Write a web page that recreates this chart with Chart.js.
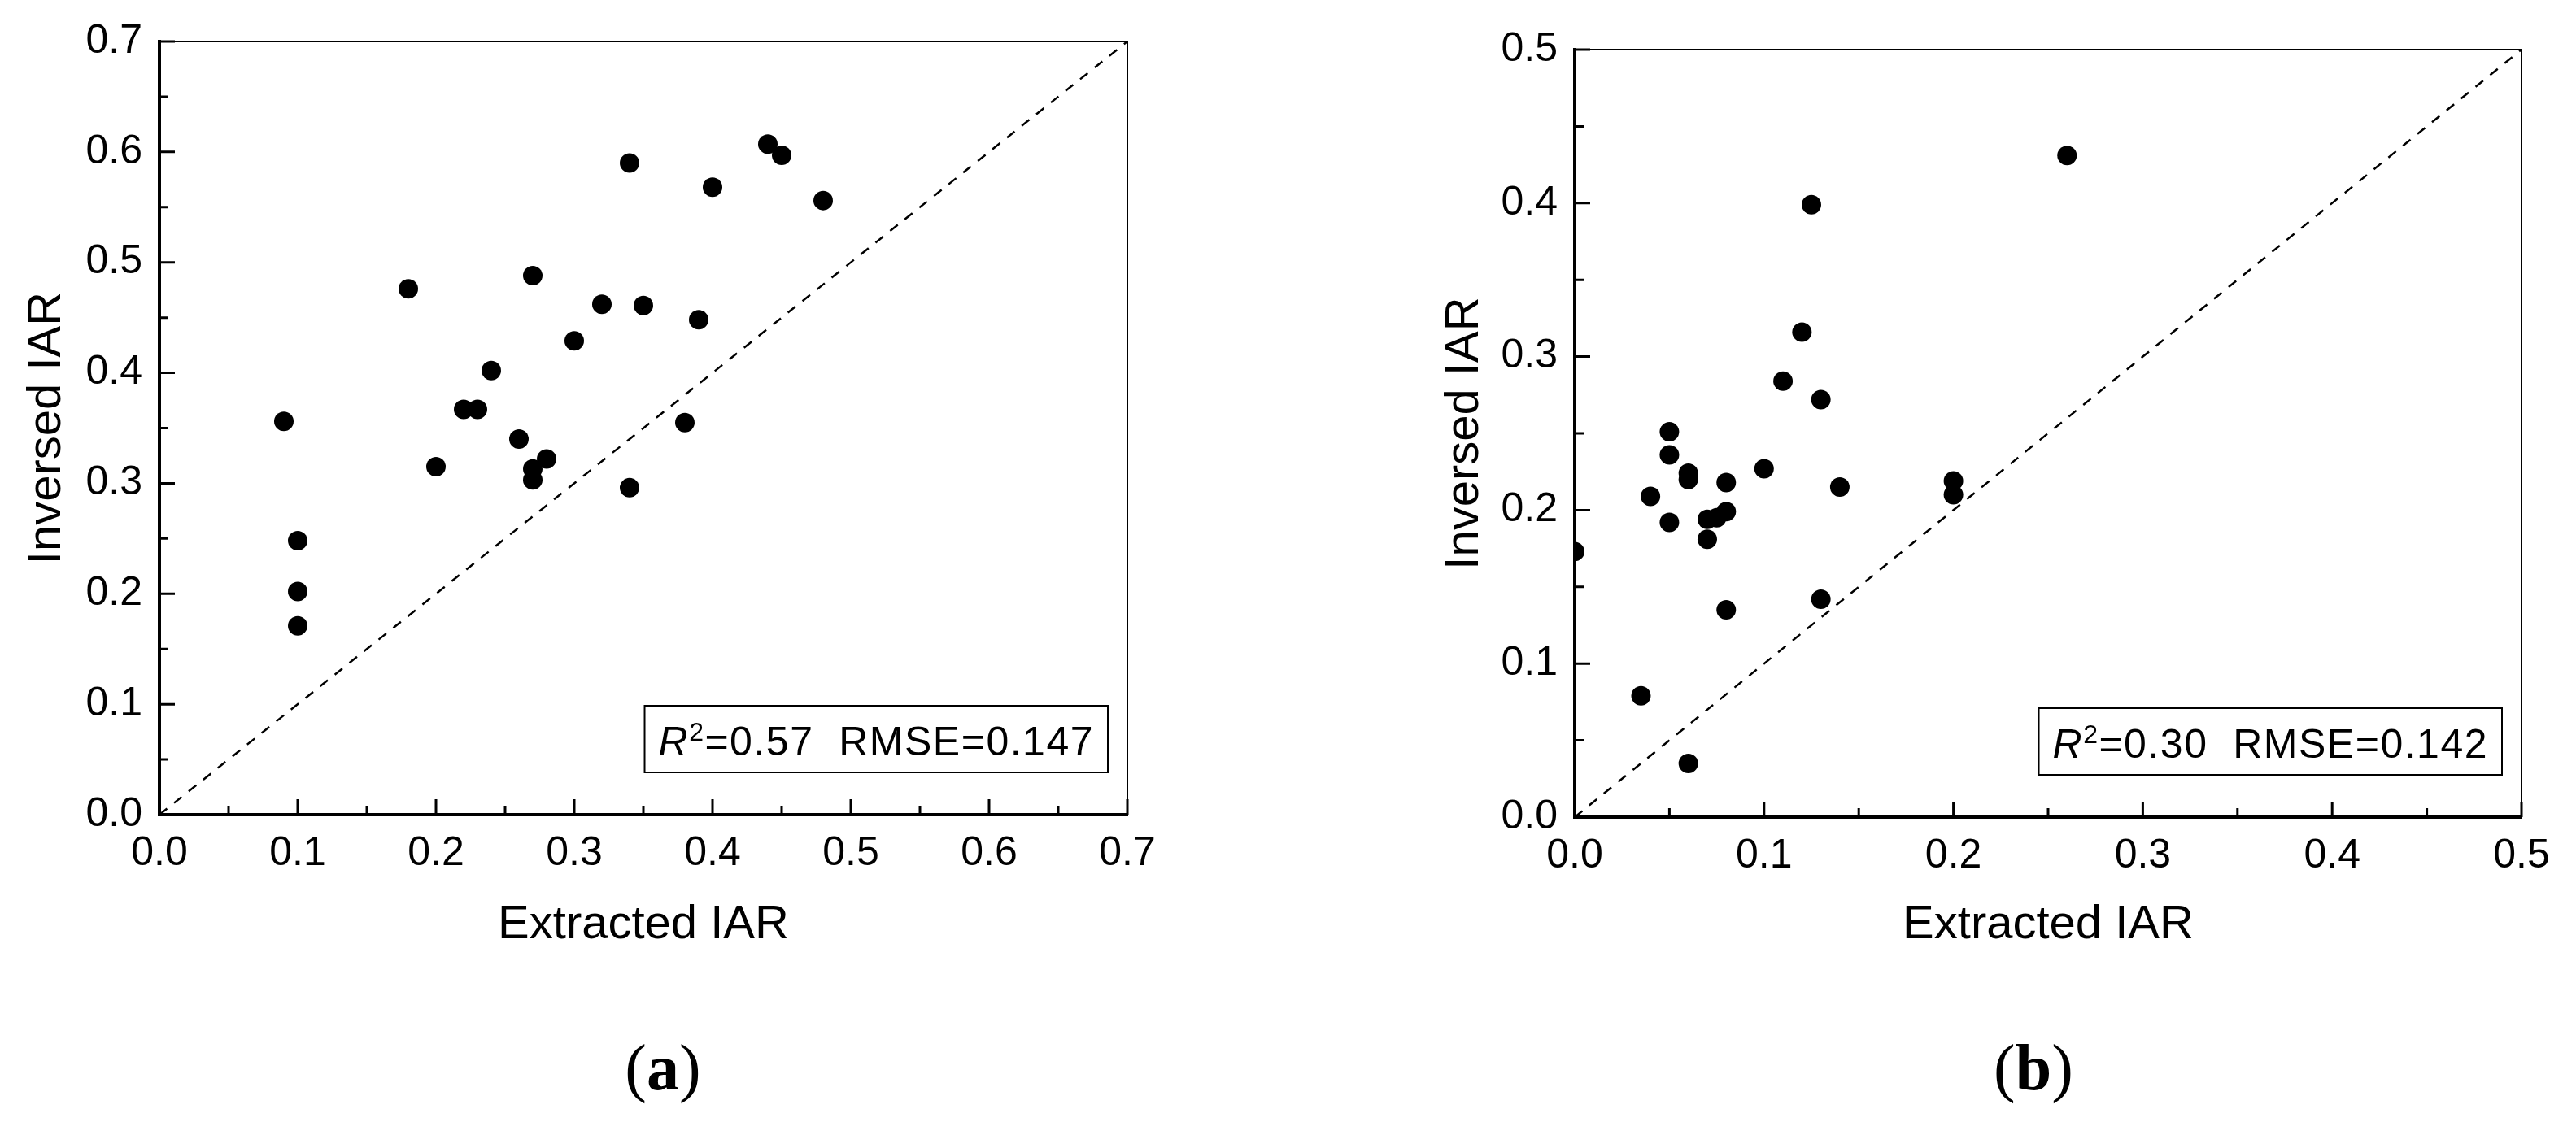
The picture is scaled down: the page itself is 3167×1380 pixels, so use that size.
<!DOCTYPE html>
<html>
<head>
<meta charset="utf-8">
<script src="https://cdn.jsdelivr.net/npm/chart.js@4"></script>
<style>
  html, body { margin: 0; padding: 0; background: #fff; }
  body { width: 3167px; height: 1380px; position: relative; overflow: hidden; }
  .panel { position: absolute; top: 0; height: 1380px; }
  #panelA { left: 0; width: 1560px; }
  #panelB { left: 1620px; width: 1547px; }
</style>
</head>
<body>
<div class="panel" id="panelA"><canvas id="chartA"></canvas></div>
<div class="panel" id="panelB"><canvas id="chartB"></canvas></div>
<script>
// panel (a) values
const extractedA = [0.09, 0.10, 0.10, 0.10, 0.18, 0.20, 0.22, 0.23, 0.24, 0.26, 0.27, 0.27, 0.27,
  0.28, 0.30, 0.32, 0.34, 0.34, 0.35, 0.38, 0.39, 0.40, 0.44, 0.45, 0.48];
const inversedA = [0.356, 0.248, 0.202, 0.171, 0.476, 0.315, 0.367, 0.367, 0.402, 0.340, 0.488, 0.313, 0.303,
  0.322, 0.429, 0.462, 0.590, 0.296, 0.461, 0.355, 0.448, 0.568, 0.607, 0.597, 0.556];
const ticksA = [0.0, 0.1, 0.2, 0.3, 0.4, 0.5, 0.6, 0.7];
const minorA = [0.05, 0.15, 0.25, 0.35, 0.45, 0.55, 0.65];

// panel (b) values
const extractedB = [0.0, 0.035, 0.04, 0.05, 0.05, 0.05, 0.06, 0.06, 0.06, 0.07, 0.07, 0.075, 0.08,
  0.08, 0.08, 0.10, 0.11, 0.12, 0.125, 0.13, 0.13, 0.14, 0.20, 0.20, 0.26];
const inversedB = [0.173, 0.079, 0.209, 0.251, 0.236, 0.192, 0.224, 0.220, 0.035, 0.194, 0.181, 0.195, 0.199,
  0.218, 0.135, 0.227, 0.284, 0.316, 0.399, 0.272, 0.142, 0.215, 0.219, 0.210, 0.431];
const ticksB = [0.0, 0.1, 0.2, 0.3, 0.4, 0.5];
const minorB = [0.05, 0.15, 0.25, 0.35, 0.45];

const FAMILY = "'Liberation Sans', Arial, sans-serif";
const SERIF = "'Liberation Serif', 'Times New Roman', serif";
Chart.defaults.font.family = FAMILY;
Chart.defaults.color = "#000";

/* cadre fin en haut/à droite, graduations intérieures, encadré des stats, étiquette du panneau */
const framePlugin = {
  id: "frame",
  afterDraw(chart, args, o) {
    const { ctx, chartArea: a } = chart;
    const xs = chart.scales.x, ys = chart.scales.y;
    ctx.save();
    ctx.strokeStyle = "#000";
    ctx.lineWidth = 2;
    ctx.beginPath();
    ctx.moveTo(a.left, a.top);
    ctx.lineTo(a.right, a.top);
    ctx.lineTo(a.right, a.bottom);
    ctx.stroke();

    ctx.lineWidth = 3;
    ctx.beginPath();
    const xTick = (v, len) => {
      const px = xs.getPixelForValue(v);
      ctx.moveTo(px, a.bottom);
      ctx.lineTo(px, a.bottom - len);
    };
    const yTick = (v, len) => {
      const py = ys.getPixelForValue(v);
      ctx.moveTo(a.left, py);
      ctx.lineTo(a.left + len, py);
    };
    o.major.forEach(v => { xTick(v, 19); yTick(v, 19); });
    o.minor.forEach(v => { xTick(v, 11); yTick(v, 11); });
    ctx.stroke();

    // encadré R² / RMSE
    ctx.letterSpacing = "1.5px";
    ctx.font = "italic 50px " + FAMILY;
    const wR = ctx.measureText("R").width;
    ctx.font = "32px " + FAMILY;
    const w2 = ctx.measureText("2").width;
    ctx.font = "50px " + FAMILY;
    const rest = "=" + o.r2 + "  RMSE=" + o.rmse;
    const wRest = ctx.measureText(rest).width;
    const total = wR + w2 + wRest;
    const boxW = total + 34, boxH = 82;
    const boxRight = a.right - 24, boxBottom = a.bottom - 52;
    const boxLeft = boxRight - boxW, boxTop = boxBottom - boxH;
    ctx.lineWidth = 2;
    ctx.strokeRect(boxLeft, boxTop, boxW, boxH);
    ctx.fillStyle = "#000";
    ctx.textBaseline = "alphabetic";
    ctx.textAlign = "left";
    let tx = boxLeft + 17;
    const base = boxBottom - 21.5;
    ctx.font = "italic 50px " + FAMILY;
    ctx.fillText("R", tx, base);
    tx += wR;
    ctx.font = "32px " + FAMILY;
    ctx.fillText("2", tx, base - 18);
    tx += w2;
    ctx.font = "50px " + FAMILY;
    ctx.fillText(rest, tx, base);
    ctx.letterSpacing = "0px";

    // (a) / (b)
    ctx.font = "80px " + SERIF;
    const wp1 = ctx.measureText("(").width;
    const wp2 = ctx.measureText(")").width;
    ctx.font = "bold 80px " + SERIF;
    const wl = ctx.measureText(o.panel).width;
    let px = o.panelX - (wp1 + wl + wp2) / 2;
    ctx.font = "80px " + SERIF;
    ctx.fillText("(", px, 1340);
    px += wp1;
    ctx.font = "bold 80px " + SERIF;
    ctx.fillText(o.panel, px, 1340);
    px += wl;
    ctx.font = "80px " + SERIF;
    ctx.fillText(")", px, 1340);
    ctx.restore();
  }
};

function buildChart(canvasId, c) {
  const context = document.getElementById(canvasId).getContext("2d");
  const points = c.xs.map((x, i) => ({ x: x, y: c.ys[i] }));
  const axisBase = {
    type: "linear",
    min: 0,
    max: c.max,
    afterBuildTicks: s => { s.ticks = c.ticks.map(v => ({ value: v })); },
    grid: { display: false, drawTicks: false },
    border: { display: true, color: "#000", width: 4 },
  };
  return new Chart(context, {
    type: "scatter",
    data: {
      datasets: [
        {
          label: "points",
          data: points,
          backgroundColor: "#000",
          borderColor: "#000",
          borderWidth: 0,
          pointRadius: 12,
          pointHoverRadius: 12,
          clip: 0,
        },
        {
          label: "1:1",
          type: "line",
          data: [{ x: 0, y: 0 }, { x: c.max, y: c.max }],
          borderColor: "#000",
          borderWidth: 2.5,
          borderDash: [12, 11],
          pointRadius: 0,
          fill: false,
          clip: 0,
        }
      ]
    },
    options: {
      responsive: true,
      maintainAspectRatio: false,
      animation: false,
      events: [],
      layout: { padding: c.padding },
      plugins: {
        legend: { display: false },
        tooltip: { enabled: false },
        frame: { major: c.ticks, minor: c.minor, r2: c.r2, rmse: c.rmse, panel: c.panel, panelX: c.panelX },
      },
      scales: {
        x: Object.assign({}, axisBase, {
          afterFit: s => { s.height = 180; },
          ticks: { color: "#000", font: { size: 50 }, padding: 18, maxRotation: 0, autoSkip: false,
            callback: v => v.toFixed(1) },
          title: { display: true, text: "Extracted IAR", color: "#000", font: { size: 58 },
            padding: { top: 0, bottom: c.xTitlePad } },
        }),
        y: Object.assign({}, axisBase, {
          afterFit: s => { s.width = c.yAxisWidth; },
          ticks: { color: "#000", font: { size: 50 }, padding: 21, autoSkip: false,
            callback: v => v.toFixed(1) },
          title: { display: true, text: "Inversed IAR", color: "#000", font: { size: 58 },
            padding: { top: c.yTitlePad, bottom: 0 } },
        }),
      },
    },
    plugins: [framePlugin],
  });
}

const chartA = buildChart("chartA", {
  xs: extractedA, ys: inversedA, max: 0.7, ticks: ticksA, minor: minorA,
  r2: "0.57", rmse: "0.147", panel: "a", panelX: 815,
  padding: { left: 0, top: 44, right: 174, bottom: 198 },
  yAxisWidth: 196, yTitlePad: 23, xTitlePad: 9,
});

const chartB = buildChart("chartB", {
  xs: extractedB, ys: inversedB, max: 0.5, ticks: ticksB, minor: minorB,
  r2: "0.30", rmse: "0.142", panel: "b", panelX: 880,
  padding: { left: 0, top: 61, right: 67, bottom: 195 },
  yAxisWidth: 316, yTitlePad: 146, xTitlePad: 12,
});
</script>
</body>
</html>
